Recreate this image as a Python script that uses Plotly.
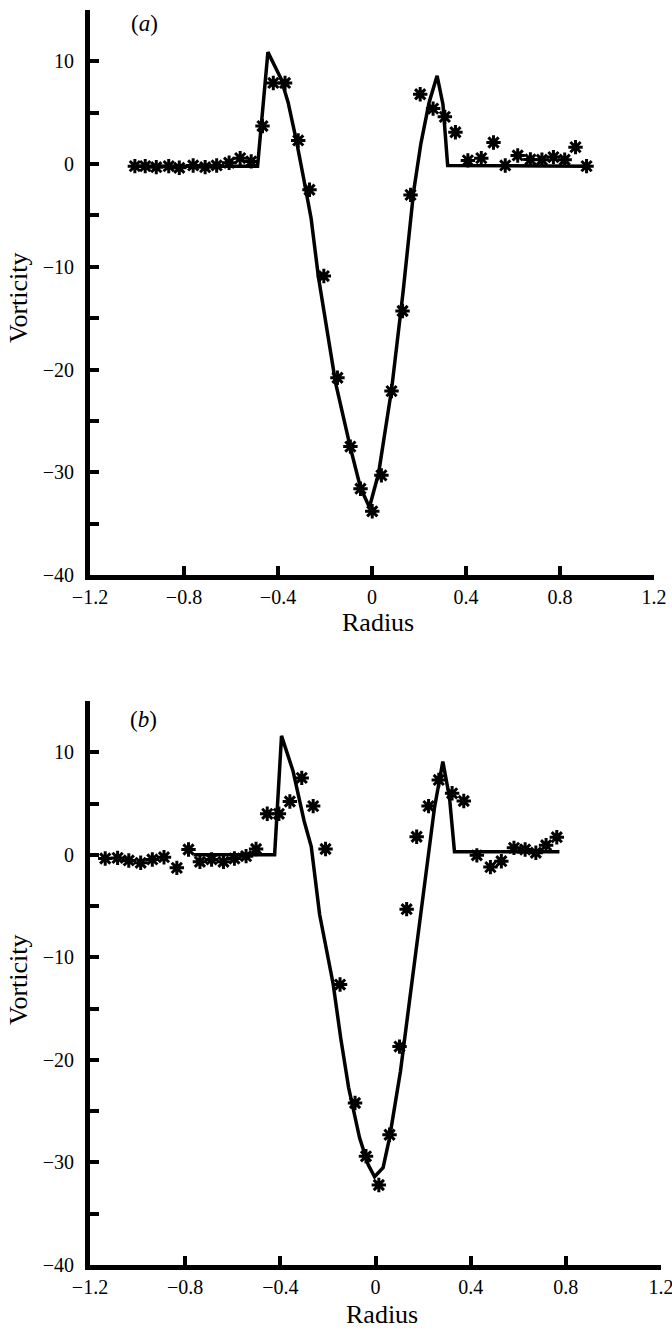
import plotly.graph_objects as go

# ---------------- data: panel (a) ----------------
a_line_x = [-1.01, -0.487, -0.443, -0.387, -0.357, -0.322, -0.29, -0.259, -0.228, -0.155,
            -0.092, -0.049, -0.011, 0.028, 0.083, 0.132, 0.177, 0.208, 0.243, 0.277,
            0.302, 0.322, 0.913]
a_line_y = [-0.2, -0.2, 10.9, 8.3, 6.0, 2.3, -1.5, -5.3, -11.0, -21.3,
            -27.6, -31.5, -33.4, -30.1, -22.0, -12.5, -2.7, 2.0, 6.0, 8.6,
            5.8, -0.15, -0.2]

a_star_x = [-1.009, -0.965, -0.918, -0.865, -0.820, -0.761, -0.710, -0.661, -0.608, -0.561,
            -0.514, -0.466, -0.42, -0.37, -0.314, -0.266, -0.205, -0.147, -0.092, -0.049,
            0.001, 0.04, 0.083, 0.13, 0.164, 0.205, 0.26, 0.31, 0.355, 0.408,
            0.465, 0.517, 0.567, 0.620, 0.674, 0.723, 0.772, 0.820, 0.866, 0.913]
a_star_y = [-0.2, -0.2, -0.3, -0.2, -0.36, -0.13, -0.3, -0.13, 0.13, 0.58,
            0.26, 3.7, 7.9, 7.9, 2.3, -2.5, -10.9, -20.8, -27.5, -31.6,
            -33.8, -30.3, -22.1, -14.3, -3.0, 6.8, 5.4, 4.6, 3.1, 0.36,
            0.58, 2.1, -0.13, 0.84, 0.45, 0.42, 0.68, 0.42, 1.65, -0.2]

# ---------------- data: panel (b) ----------------
b_line_x = [-0.765, -0.424, -0.395, -0.347, -0.3, -0.27, -0.235, -0.178, -0.146, -0.113,
            -0.067, -0.031, -0.004, 0.032, 0.059, 0.105, 0.141, 0.177, 0.213, 0.248,
            0.283, 0.311, 0.332, 0.773]
b_line_y = [0.0, 0.0, 11.6, 8.2, 3.3, 0.8, -5.8, -12.6, -17.9, -22.7,
            -27.6, -30.2, -31.4, -30.5, -27.6, -21.1, -14.6, -8.1, -1.6, 4.6,
            9.1, 5.6, 0.3, 0.3]

b_star_x = [-1.136, -1.084, -1.037, -0.987, -0.938, -0.889, -0.835, -0.786, -0.738, -0.689,
            -0.639, -0.593, -0.544, -0.502, -0.455, -0.406, -0.36, -0.31, -0.262, -0.21,
            -0.149, -0.086, -0.04, 0.014, 0.059, 0.101, 0.131, 0.173, 0.223, 0.266,
            0.322, 0.371, 0.426, 0.483, 0.529, 0.582, 0.629, 0.674, 0.717, 0.762]
b_star_y = [-0.36, -0.3, -0.55, -0.78, -0.45, -0.23, -1.27, 0.52, -0.68, -0.45,
            -0.68, -0.36, -0.13, 0.57, 4.0, 4.0, 5.2, 7.5, 4.75, 0.57,
            -12.65, -24.2, -29.4, -32.2, -27.3, -18.7, -5.3, 1.76, 4.75, 7.3,
            6.0, 5.25, -0.05, -1.2, -0.62, 0.68, 0.52, 0.2, 0.94, 1.72]

# ---------------- axes ----------------
x_ticks = [-1.2, -0.8, -0.4, 0, 0.4, 0.8, 1.2]
y_ticks = [-40, -30, -20, -10, 0, 10]
y_minor = [-35, -25, -15, -5, 5, 15]
x_range = [-1.2, 1.2]
y_range = [-40, 15]
panel_labels = ["(<i>a</i>)", "(<i>b</i>)"]
x_title = "Radius"
y_title = "Vorticity"

W, H = 672, 1330
FONT = "'Liberation Serif', 'Times New Roman', Times, 'DejaVu Serif', serif"

fig = go.Figure()

line_style = dict(color="black", width=3.5)
marker_style = dict(symbol="asterisk-open", size=12, color="black",
                    line=dict(width=3, color="black"))

fig.add_trace(go.Scatter(x=a_line_x, y=a_line_y, mode="lines", line=line_style,
                         xaxis="x", yaxis="y", showlegend=False))
fig.add_trace(go.Scatter(x=a_star_x, y=a_star_y, mode="markers", marker=marker_style,
                         xaxis="x", yaxis="y", showlegend=False))
fig.add_trace(go.Scatter(x=b_line_x, y=b_line_y, mode="lines", line=line_style,
                         xaxis="x2", yaxis="y2", showlegend=False))
fig.add_trace(go.Scatter(x=b_star_x, y=b_star_y, mode="markers", marker=marker_style,
                         xaxis="x2", yaxis="y2", showlegend=False))

tickfont = dict(family=FONT, size=20, color="black")


def xax(domain, anchor):
    return dict(domain=domain, anchor=anchor, range=x_range, tickvals=x_ticks,
                ticks="inside", ticklen=9, tickwidth=4, tickcolor="black",
                showline=True, linewidth=5, linecolor="black", showgrid=False,
                zeroline=False, tickfont=tickfont, ticklabelstandoff=0,
                ticklabeloverflow="allow", automargin=False, fixedrange=True)


def yax(domain, anchor):
    return dict(domain=domain, anchor=anchor, range=y_range, tickvals=y_ticks,
                ticks="inside", ticklen=9, tickwidth=4, tickcolor="black",
                minor=dict(tickvals=y_minor, ticks="inside", ticklen=9, tickwidth=4,
                           tickcolor="black", showgrid=False),
                showline=True, linewidth=5, linecolor="black", showgrid=False,
                zeroline=False, tickfont=tickfont, ticklabelstandoff=7,
                automargin=False, fixedrange=True)


def py(p):
    return 1 - p / H


def px(p):
    return p / W


fig.update_layout(
    template="none",
    width=W, height=H, margin=dict(l=0, r=0, t=0, b=0, pad=0, autoexpand=False),
    paper_bgcolor="white", plot_bgcolor="white",
    xaxis=xax([px(90), px(654)], "y"),
    yaxis=yax([py(575), py(10)], "x"),
    xaxis2=xax([px(90), px(661)], "y2"),
    yaxis2=yax([py(1265), py(701)], "x2"),
)

ann_font_t = dict(family=FONT, size=26, color="black")
ann_font_p = dict(family=FONT, size=23, color="black")
annotations = [
    dict(text=panel_labels[0], x=px(144), y=py(24), font=ann_font_p),
    dict(text=panel_labels[1], x=px(143), y=py(719), font=ann_font_p),
    dict(text=y_title, x=px(18), y=py(298), font=ann_font_t, textangle=-90),
    dict(text=y_title, x=px(18), y=py(980), font=ann_font_t, textangle=-90),
    dict(text=x_title, x=px(378), y=py(622), font=ann_font_t),
    dict(text=x_title, x=px(382), y=py(1314), font=ann_font_t),
]
for a in annotations:
    a.update(xref="paper", yref="paper", showarrow=False, xanchor="center", yanchor="middle")
fig.update_layout(annotations=annotations)

fig.write_html("out.html")
